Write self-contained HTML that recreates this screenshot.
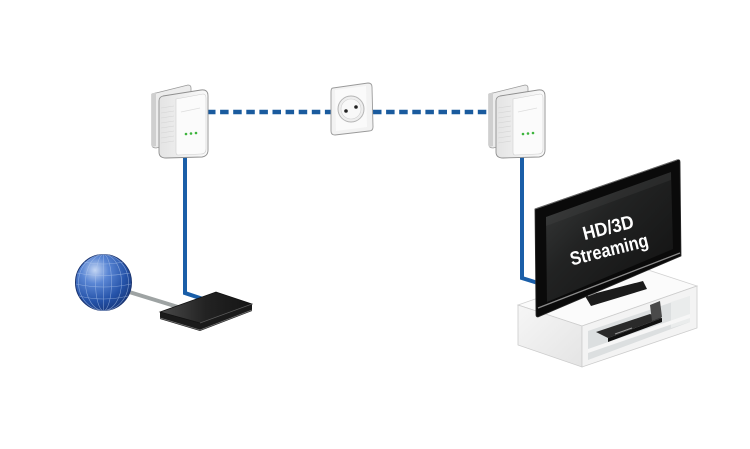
<!DOCTYPE html>
<html><head><meta charset="utf-8"><style>
html,body{margin:0;padding:0;background:#fff;}
svg{display:block;}
</style></head><body>
<svg width="750" height="449" viewBox="0 0 750 449" xmlns="http://www.w3.org/2000/svg">
<defs>
<radialGradient id="globe" cx="0.35" cy="0.28" r="0.8">
<stop offset="0" stop-color="#c4d6f4"/><stop offset="0.3" stop-color="#5a86d4"/><stop offset="0.7" stop-color="#2452a8"/><stop offset="1" stop-color="#163578"/>
</radialGradient>
<linearGradient id="router" x1="0" y1="0" x2="1" y2="0">
<stop offset="0" stop-color="#4a4a4a"/><stop offset="0.5" stop-color="#222"/><stop offset="1" stop-color="#151515"/>
</linearGradient>
<linearGradient id="screen" x1="0" y1="0" x2="1" y2="1">
<stop offset="0" stop-color="#3c3e3e"/><stop offset="0.4" stop-color="#222323"/><stop offset="1" stop-color="#101010"/>
</linearGradient>
<linearGradient id="adp" x1="0" y1="0" x2="1" y2="0">
<stop offset="0" stop-color="#e4e4e4"/><stop offset="1" stop-color="#fafafa"/>
</linearGradient>
<linearGradient id="endface" x1="0" y1="0" x2="1" y2="1">
<stop offset="0" stop-color="#f6f6f6"/><stop offset="1" stop-color="#e4e4e4"/>
</linearGradient>
<g id="adapter">
<path d="M152,94 L188,85 Q191,85 191,88 L191,140 L156,148 Q152,148 152,145 Z" fill="#ececec" stroke="#9a9a9a" stroke-width="0.8"/>
<path d="M152,94 L156,92 L156,146 L152,147 Z" fill="#cfcfcf"/>
<path d="M159,101 Q159,97 163,96 L201,90 Q208,89 208,96 L208,150 Q208,156 202,157 L166,158 Q159,158 159,152 Z" fill="url(#adp)" stroke="#8f8f8f" stroke-width="0.9"/>
<path d="M176,99 L203,94 Q206,94 206,98 L206,149 Q206,154 201,154 L178,155 Q176,155 176,152 Z" fill="#fbfbfb" stroke="#cfcfcf" stroke-width="0.6"/>
<g stroke="#d4d4d4" stroke-width="0.6">
<line x1="161" y1="108" x2="174" y2="106"/><line x1="161" y1="113" x2="174" y2="111"/>
<line x1="161" y1="118" x2="174" y2="116"/><line x1="161" y1="123" x2="174" y2="121"/>
<line x1="161" y1="128" x2="174" y2="126"/><line x1="161" y1="133" x2="174" y2="131"/>
<line x1="161" y1="138" x2="174" y2="136"/><line x1="161" y1="143" x2="174" y2="141"/>
</g>
<line x1="181" y1="112" x2="200" y2="108" stroke="#ddd" stroke-width="0.8"/>
<circle cx="186" cy="134" r="1.3" fill="#3cb43c"/><circle cx="191" cy="133.5" r="1.3" fill="#3cb43c"/><circle cx="196" cy="133" r="1.3" fill="#3cb43c"/>
</g>
</defs>
<rect width="750" height="449" fill="#fff"/>

<!-- dashed powerline -->
<line x1="207" y1="112" x2="331" y2="112" stroke="#1a5b9e" stroke-width="4.5" stroke-dasharray="8.5 4.6"/>
<line x1="373" y1="112" x2="497" y2="112" stroke="#1a5b9e" stroke-width="4.5" stroke-dasharray="8.5 4.6"/>

<!-- blue cables -->
<polyline points="185,156 185,293 203,299" fill="none" stroke="#1a5ea8" stroke-width="4"/>
<polyline points="522,156 522,278 538,283" fill="none" stroke="#1a5ea8" stroke-width="4"/>

<!-- adapters -->
<use href="#adapter"/>
<use href="#adapter" transform="translate(337,0)"/>

<!-- socket -->
<path d="M333,88 L368,83 Q372,83 372,87 L373,127 Q373,131 369,131 L335,135 Q331,135 331,131 L331,92 Q331,88 333,88 Z" fill="#f2f2f2" stroke="#9a9a9a" stroke-width="0.9"/>
<path d="M335,90 L366,86 L367,127 L336,131 Z" fill="#fafafa"/>
<circle cx="351" cy="109" r="13" fill="#eeeeee" stroke="#b5b5b5" stroke-width="1"/>
<circle cx="351" cy="109" r="10" fill="#f8f8f8" stroke="#d0d0d0" stroke-width="0.6"/>
<circle cx="346" cy="111" r="1.8" fill="#222"/><circle cx="356" cy="107" r="1.8" fill="#222"/>

<!-- gray cable globe-router -->
<line x1="126" y1="291" x2="178" y2="307" stroke="#9ea3a3" stroke-width="4"/>

<!-- globe -->
<circle cx="103.5" cy="282.5" r="28" fill="url(#globe)" stroke="#1c3570" stroke-width="1"/>
<g fill="none" stroke="#b8cdef" stroke-width="0.6" opacity="0.6">
<ellipse cx="103.5" cy="282.5" rx="8" ry="28"/>
<ellipse cx="103.5" cy="282.5" rx="18" ry="28"/>
<ellipse cx="103.5" cy="282.5" rx="25" ry="28"/>
<line x1="103.5" y1="254.5" x2="103.5" y2="310.5"/>
<path d="M77,273 Q103.5,278 130,273"/>
<path d="M76,284 Q103.5,290 131,284"/>
<path d="M79,296 Q103.5,302 128,296"/>
<path d="M84,262 Q103.5,266 123,262"/>
</g>

<!-- router -->
<path d="M160,312 L160,319 L200,331 L252,311 L252,304 L200,323 Z" fill="#1a1a1a"/>
<path d="M160,318 L200,330 L252,310" fill="none" stroke="#777" stroke-width="0.8"/>
<path d="M160,312 L216,292 L252,304 L200,323 Z" fill="url(#router)" stroke="#111" stroke-width="0.8"/>
<path d="M200,323 L252,304" stroke="#5a5a5a" stroke-width="0.8"/>

<!-- cabinet -->
<path d="M518,305 L582,326 L697,286 L633,265 Z" fill="#fbfbfb" stroke="#d2d2d2" stroke-width="0.8"/>
<path d="M518,305 L582,326 L582,367 L518,345 Z" fill="url(#endface)" stroke="#cccccc" stroke-width="0.8"/>
<path d="M582,326 L697,286 L697,328 L582,367 Z" fill="#f3f3f3" stroke="#cccccc" stroke-width="0.8"/>
<path d="M588,331 L690,296 L690,322 L588,360 Z" fill="#dcdfe0"/>
<path d="M671,302 L690,296 L690,322 L671,328 Z" fill="#eaecec"/>
<path d="M588,349 L690,314 L690,318 L588,353 Z" fill="#f6f6f6"/>
<!-- dvd player -->
<path d="M596,332 L650,314 L662,318 L608,338 Z" fill="#2a2a2a"/>
<path d="M608,338 L662,318 L662,322 L608,342 Z" fill="#111"/>
<path d="M615,334 L632,328" stroke="#9a9a9a" stroke-width="1"/>
<path d="M650,305 L660,301 L662,317 L652,321 Z" fill="#4a4a4a"/>

<!-- TV stand -->
<path d="M585,296 L643,281 L647,289 L591,306 Z" fill="#1b1b1b"/>

<!-- TV -->
<path d="M535,209 L677,160 Q680,159 680,162 L681,256 L538,317 Q536,317 536,315 Z" fill="#0a0a0a" stroke="#2a2a2a" stroke-width="0.8"/>
<path d="M535,209 L677,160" stroke="#666" stroke-width="1"/>
<path d="M546,217 L671,172 L673,249 L547,302 Z" fill="url(#screen)"/>
<path d="M546,217 L671,172 L671,180 L546,226 Z" fill="#555" opacity="0.2"/>
<line x1="538" y1="308" x2="680" y2="253" stroke="#8a8a8a" stroke-width="1.3"/>
<line x1="588" y1="296" x2="596" y2="293" stroke="#999" stroke-width="0.8"/>

<text x="608" y="234" transform="rotate(-14 608 227)" text-anchor="middle" font-family="Liberation Sans, sans-serif" font-weight="bold" font-size="19" textLength="52" lengthAdjust="spacingAndGlyphs" fill="#fff">HD/3D</text>
<text x="609" y="256" transform="rotate(-14 609 249)" text-anchor="middle" font-family="Liberation Sans, sans-serif" font-weight="bold" font-size="19" textLength="80" lengthAdjust="spacingAndGlyphs" fill="#fff">Streaming</text>
</svg>
</body></html>
